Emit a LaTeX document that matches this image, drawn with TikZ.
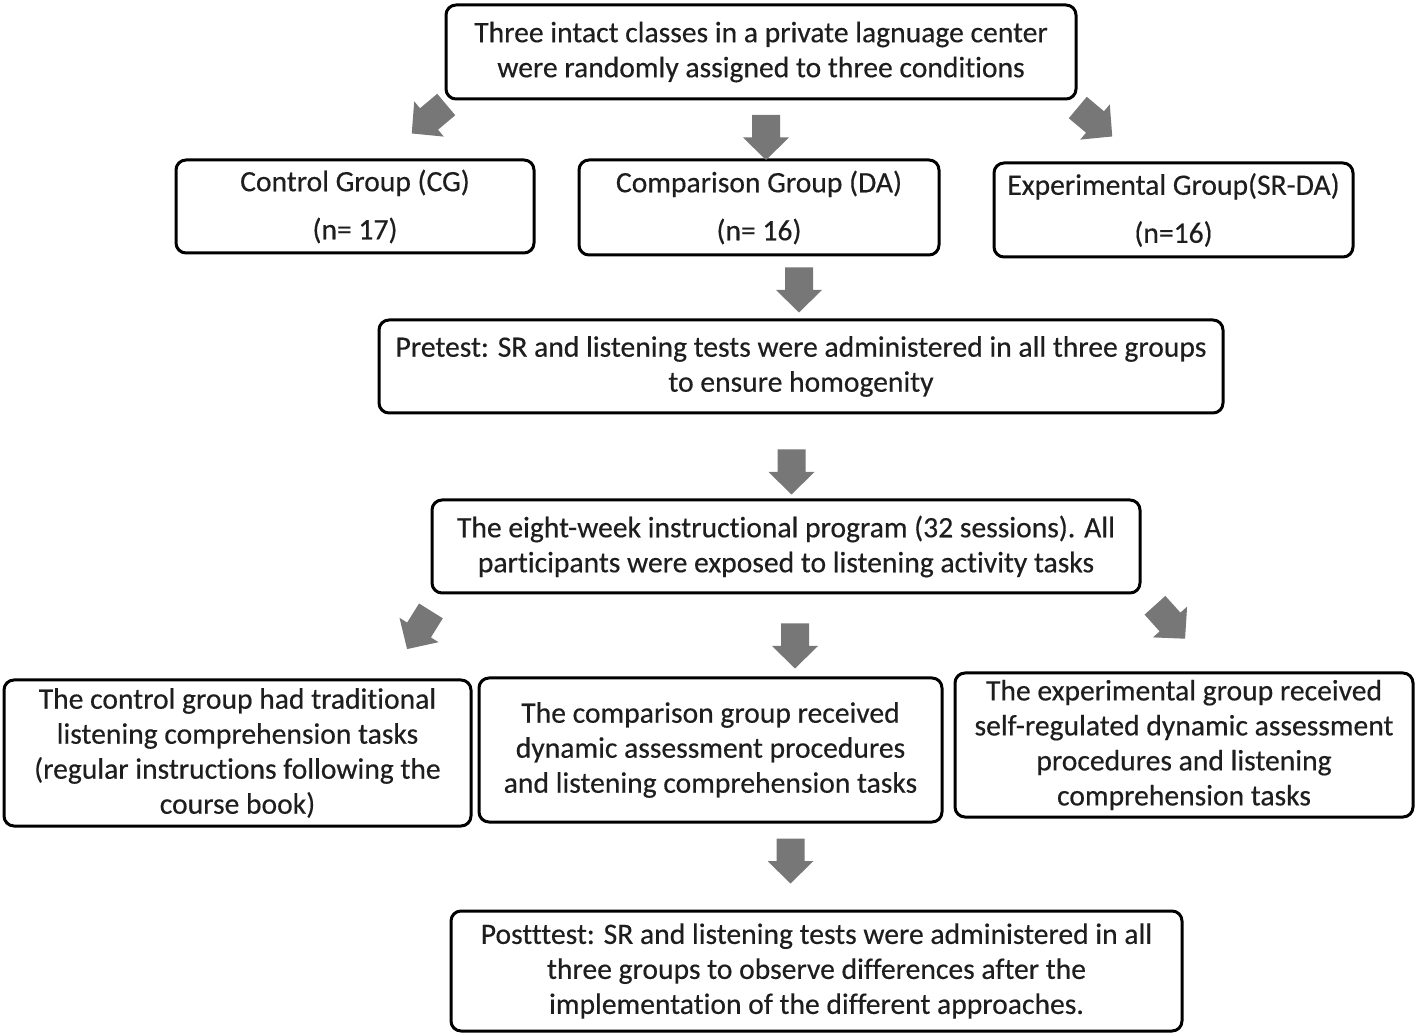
\documentclass[tikz,border=0pt]{standalone}
\usepackage{fontspec}
\setmainfont{Carlito}[FakeBold=0.4,Ligatures=NoCommon]
\definecolor{arrowgray}{RGB}{119,119,119}
\definecolor{boxtext}{RGB}{30,30,30}
\tikzset{
  flowbox/.style={draw=black, line width=1.5pt, rounded corners=5pt, align=center,
    inner sep=0pt, text=boxtext, font=\fontsize{14.8}{17.5}\selectfont},
  barrow/.pic={\fill[arrowgray] (-7pt,11.25pt) -- (-7pt,0pt) -- (-11.5pt,0pt) -- (0pt,-11.25pt)
      -- (11.5pt,0pt) -- (7pt,0pt) -- (7pt,11.25pt) -- cycle;}
}
\begin{document}
\begin{tikzpicture}[x=0.5pt,y=-0.5pt]
\useasboundingbox (0,0) rectangle (1418,1036);
% boxes
\node[flowbox, minimum width=315pt, minimum height=47pt] (top) at (761,52)
  {Three intact classes in a private lagnuage center\\were randomly assigned to three conditions};
\node[flowbox, minimum width=179pt, minimum height=46.5pt] (cg) at (355,206.5)
  {Control Group (CG)\\[6.5pt](n= 17)};
\node[flowbox, minimum width=180pt, minimum height=47.5pt] (da) at (759,207.5)
  {Comparison Group (DA)\\[6.5pt](n= 16)};
\node[flowbox, minimum width=179.5pt, minimum height=47pt] (srda) at (1173.5,210)
  {Experimental Group(SR-DA)\\[6.5pt](n=16)};
\node[flowbox, minimum width=422pt, minimum height=46.5pt] (pre) at (801,366.5)
  {Pretest: SR and listening tests were administered in all three groups\\to ensure homogenity};
\node[flowbox, minimum width=354pt, minimum height=46.5pt] (prog) at (786,546.5)
  {The eight-week instructional program (32 sessions). All\\participants were exposed to listening activity tasks};
\node[flowbox, minimum width=233.5pt, minimum height=73pt] (ctl) at (237.5,753)
  {The control group had traditional\\listening comprehension tasks\\(regular instructions following the\\course book)};
\node[flowbox, minimum width=231.5pt, minimum height=72pt] (cmp) at (710.5,750)
  {The comparison group received\\dynamic assessment procedures\\and listening comprehension tasks};
\node[flowbox, minimum width=229pt, minimum height=72pt] (exp) at (1184,745)
  {The experimental group received\\self-regulated dynamic assessment\\procedures and listening\\comprehension tasks};
\node[flowbox, minimum width=365.5pt, minimum height=60pt] (post) at (816.5,971)
  {Postttest: SR and listening tests were administered in all\\three groups to observe differences after the\\implementation of the different approaches.};
% block arrows
\pic[rotate=-50] at (429,119) {barrow};
\pic at (766,137.5) {barrow};
\pic[rotate=50] at (1095,122) {barrow};
\pic at (799,290) {barrow};
\pic at (791.5,472) {barrow};
\pic[rotate=-32] at (419,630) {barrow};
\pic at (795,646) {barrow};
\pic[rotate=42] at (1170,622) {barrow};
\pic at (790.5,861) {barrow};
\end{tikzpicture}
\end{document}
